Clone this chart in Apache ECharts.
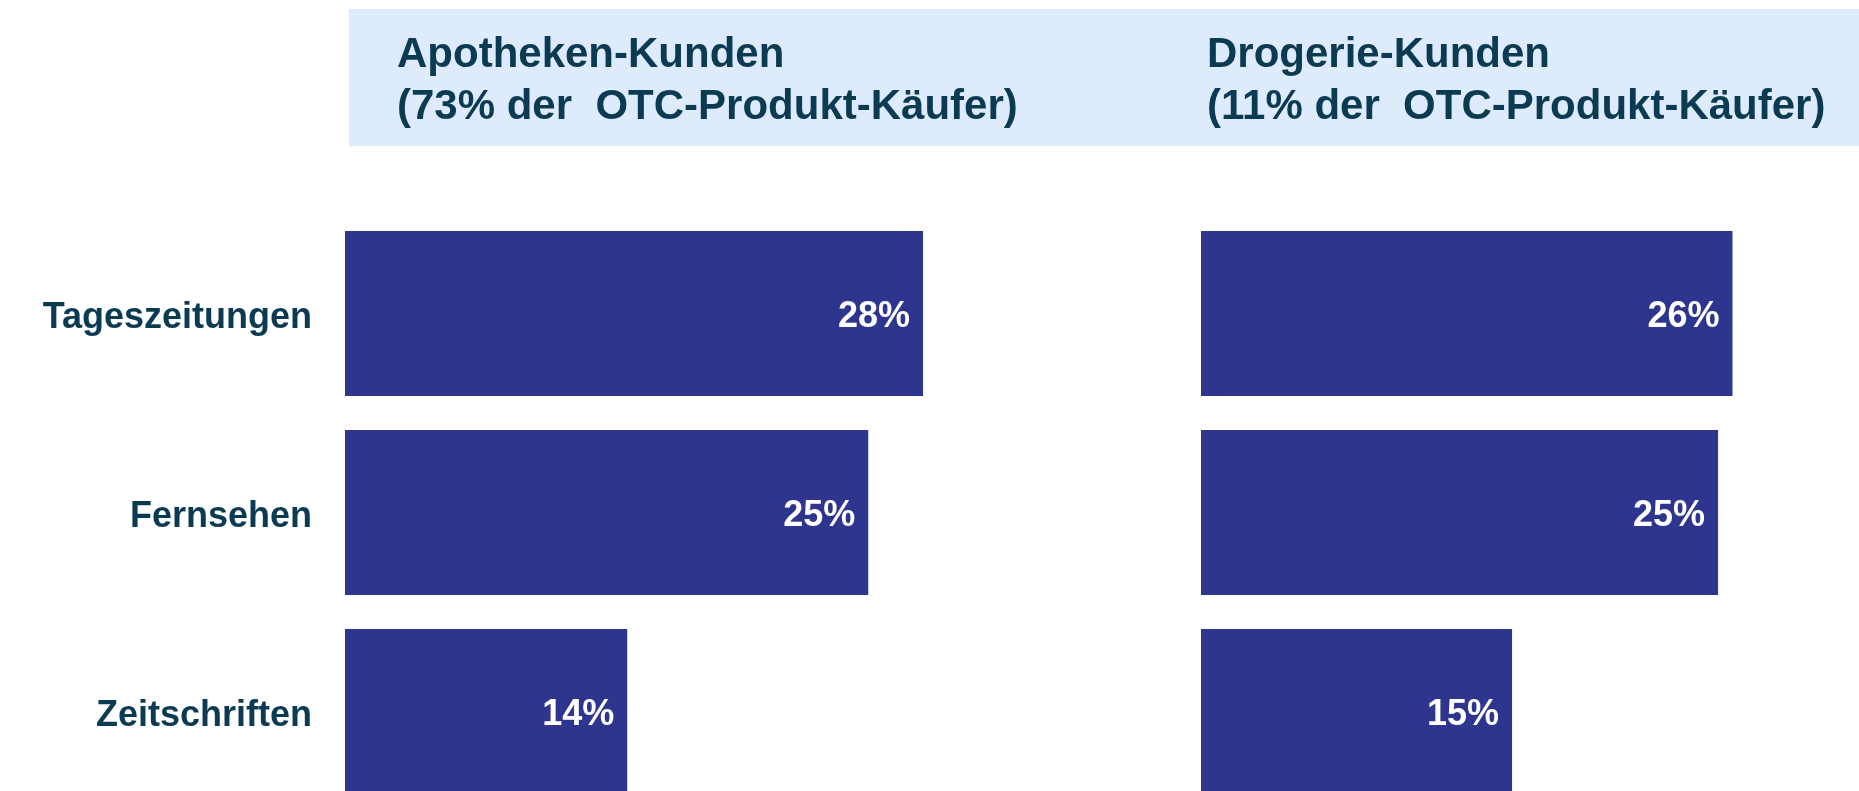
<!DOCTYPE html>
<html>
<head>
<meta charset="utf-8">
<script src="https://cdn.jsdelivr.net/npm/echarts@6/dist/echarts.min.js"></script>
<style>
html, body { margin: 0; padding: 0; background: #fff; }
#main { width: 1859px; height: 791px; }
</style>
</head>
<body>
<div id="main"></div>
<script>
var categories = ['Tageszeitungen', 'Fernsehen', 'Zeitschriften'];
var apothekeValues = [28.06, 25.4, 13.7];
var drogerieValues = [25.8, 25.1, 15.1];
var panelTitles = [
	'Apotheken-Kunden\n(73% der  OTC-Produkt-Käufer)',
	'Drogerie-Kunden\n(11% der  OTC-Produkt-Käufer)'
];

var font = '"Liberation Sans", Arial, sans-serif';
var darkText = '#0b3a53';
var barColor = '#2e358e';

var myChart = echarts.init(document.getElementById('main'));

function pctLabel(p) {
	return Math.round(p.value) + '%';
}

function barSeries(idx, data) {
	return {
		type: 'bar',
		xAxisIndex: idx,
		yAxisIndex: idx,
		data: data,
		barCategoryGap: '17%',
		itemStyle: { color: barColor },
		label: {
			show: true,
			position: 'insideRight',
			distance: 13,
			offset: [0, 4],
			formatter: pctLabel,
			color: '#fff',
			fontFamily: font,
			fontWeight: 'bold',
			fontSize: 36
		},
		silent: true,
		animation: false
	};
}

var option = {
	backgroundColor: '#fff',
	graphic: [{
		type: 'rect',
		shape: { x: 349, y: 9, width: 1510, height: 137 },
		style: { fill: '#deebfc' },
		z: -1
	}],
	title: [{
		text: panelTitles[0],
		left: 397,
		top: 29,
		padding: 0,
		textStyle: { fontFamily: font, fontWeight: 'bold', fontSize: 42, lineHeight: 52, color: darkText }
	}, {
		text: panelTitles[1],
		left: 1207,
		top: 29,
		padding: 0,
		textStyle: { fontFamily: font, fontWeight: 'bold', fontSize: 42, lineHeight: 52, color: darkText }
	}],
	grid: [
		{ left: 345, top: 214, width: 618, height: 597, outerBoundsMode: 'none' },
		{ left: 1201, top: 214, width: 618, height: 597, outerBoundsMode: 'none' }
	],
	xAxis: [
		{ gridIndex: 0, type: 'value', min: 0, max: 30, show: false },
		{ gridIndex: 1, type: 'value', min: 0, max: 30, show: false }
	],
	yAxis: [{
		gridIndex: 0,
		type: 'category',
		inverse: true,
		data: categories,
		axisLine: { show: false },
		axisTick: { show: false },
		axisLabel: {
			margin: 33,
			formatter: function (v) { return '{c|' + v + '}'; },
			rich: {
				c: {
					padding: [10, 0, 0, 0],
					color: darkText,
					fontFamily: font,
					fontWeight: 'bold',
					fontSize: 36
				}
			}
		}
	}, {
		gridIndex: 1,
		type: 'category',
		inverse: true,
		data: categories,
		axisLine: { show: false },
		axisTick: { show: false },
		axisLabel: { show: false }
	}],
	series: [
		barSeries(0, apothekeValues),
		barSeries(1, drogerieValues)
	]
};

myChart.setOption(option);
window.onresize = myChart.resize;
</script>
</body>
</html>
